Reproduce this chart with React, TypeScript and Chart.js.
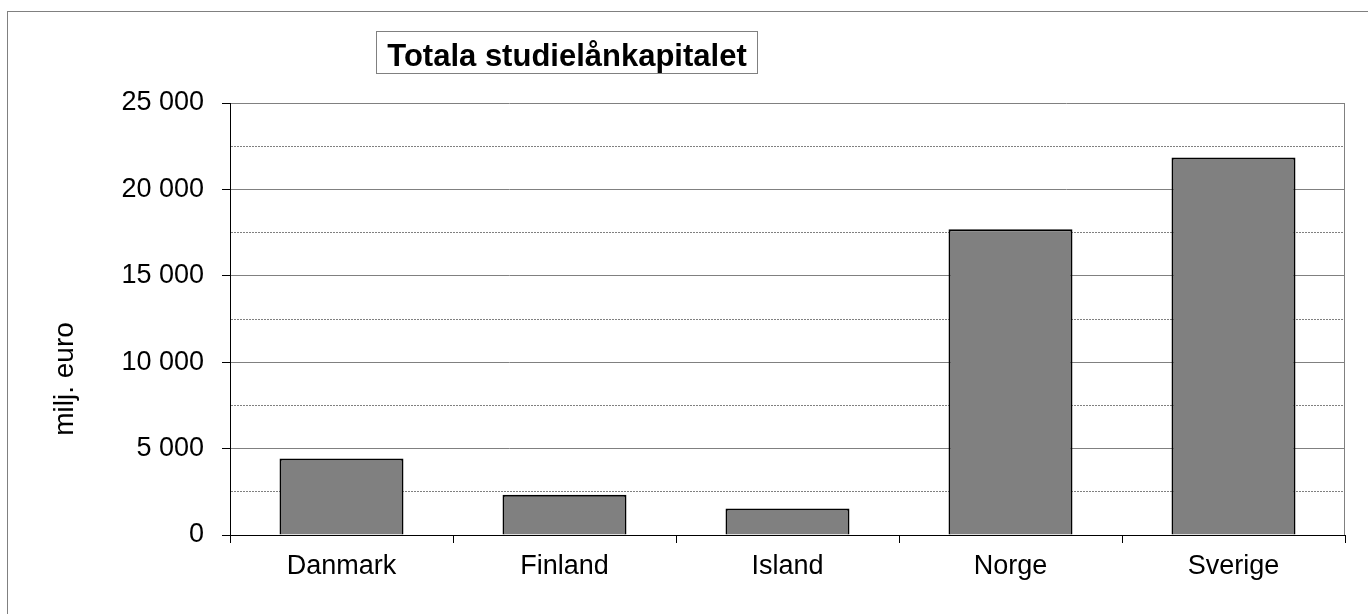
import React, { useEffect, useRef } from "react";
import { Chart, registerables } from "chart.js";

Chart.register(...registerables);

const categories = ["Danmark", "Finland", "Island", "Norge", "Sverige"];
const loanCapital = [4420, 2330, 1540, 17690, 21850];
const yMin = 0;
const yMax = 25000;
const yStep = 2500;
const yLabelStep = 5000;
const titleText = "Totala studielånkapitalet";
const yAxisTitle = "milj. euro";

const FONT = '"Liberation Sans", Arial, sans-serif';

const formatThousands = (v: number) =>
  String(v).replace(/\B(?=(\d{3})+(?!\d))/g, " ");

const decorPlugin = {
  id: "decor",
  beforeDraw(chart: any) {
    const ctx = chart.ctx;
    ctx.save();
    ctx.fillStyle = "#ffffff";
    ctx.fillRect(0, 0, chart.width, chart.height);
    // outer frame
    ctx.strokeStyle = "#808080";
    ctx.lineWidth = 1;
    ctx.strokeRect(7.5, 11.5, 3000, 3000);
    ctx.restore();
  },
  beforeDatasetsDraw(chart: any) {
    const ctx = chart.ctx;
    const a = chart.chartArea;
    ctx.save();
    ctx.strokeStyle = "#808080";
    ctx.lineWidth = 1;
    ctx.beginPath();
    ctx.moveTo(Math.round(a.right) - 0.5, a.top);
    ctx.lineTo(Math.round(a.right) - 0.5, a.bottom);
    ctx.stroke();
    ctx.restore();
  },
  afterDraw(chart: any) {
    const ctx = chart.ctx;
    ctx.save();
    // title box
    ctx.strokeStyle = "#808080";
    ctx.lineWidth = 1;
    ctx.fillStyle = "#ffffff";
    ctx.fillRect(376.5, 31.5, 381, 42);
    ctx.strokeRect(376.5, 31.5, 381, 42);
    ctx.fillStyle = "#000000";
    ctx.font = `bold 31px ${FONT}`;
    ctx.textAlign = "center";
    ctx.textBaseline = "alphabetic";
    ctx.fillText(titleText, 567, 66);
    // y axis title
    ctx.translate(73, 379);
    ctx.rotate(-Math.PI / 2);
    ctx.font = `28px ${FONT}`;
    ctx.textAlign = "center";
    ctx.textBaseline = "alphabetic";
    ctx.fillText(yAxisTitle, 0, 0);
    ctx.restore();
  },
};

export default function App() {
  const canvasRef = useRef<HTMLCanvasElement | null>(null);

  useEffect(() => {
    document.body.style.margin = "0";
    const canvas = canvasRef.current;
    if (!canvas) return;
    const isMajor = (v: number) => v % yLabelStep === 0;
    const chart = new Chart(canvas, {
      type: "bar",
      data: {
        labels: categories,
        datasets: [
          {
            data: loanCapital,
            backgroundColor: "#808080",
            borderColor: "#000000",
            borderWidth: 2,
            barPercentage: 0.556,
            categoryPercentage: 1,
          },
        ],
      },
      options: {
        animation: false,
        responsive: false,
        devicePixelRatio: 1,
        layout: { padding: { left: 0, top: 103, right: 23, bottom: 0 } },
        plugins: {
          legend: { display: false },
          title: { display: false },
          tooltip: { enabled: false },
        },
        scales: {
          x: {
            afterFit: (s: any) => {
              s.height = 79;
            },
            grid: {
              offset: true,
              drawOnChartArea: false,
              drawTicks: true,
              tickLength: 8,
              tickColor: "#000000",
              color: "#000000",
            },
            border: { color: "#000000", width: 1 },
            ticks: {
              color: "#000000",
              font: { family: FONT, size: 27 },
              padding: 7,
              maxRotation: 0,
            },
          },
          y: {
            min: yMin,
            max: yMax,
            afterFit: (s: any) => {
              s.width = 230;
            },
            grid: {
              color: "#808080",
              lineWidth: 1,
              tickLength: 8,
              tickColor: (c: any) =>
                c.tick && isMajor(c.tick.value) ? "#000000" : "rgba(0,0,0,0)",
            },
            border: {
              color: "#000000",
              width: 1,
              dash: (c: any) =>
                c.tick && !isMajor(c.tick.value) ? [2, 1] : [],
            },
            ticks: {
              stepSize: yStep,
              color: "#000000",
              font: { family: FONT, size: 27 },
              padding: 18,
              autoSkip: false,
              callback: (v: any) =>
                isMajor(Number(v)) ? formatThousands(Number(v)) : "",
            },
          },
        },
      },
      plugins: [decorPlugin],
    });
    return () => chart.destroy();
  }, []);

  return (
    <div style={{ width: 1368, height: 614 }}>
      <canvas ref={canvasRef} width={1368} height={614} />
    </div>
  );
}
